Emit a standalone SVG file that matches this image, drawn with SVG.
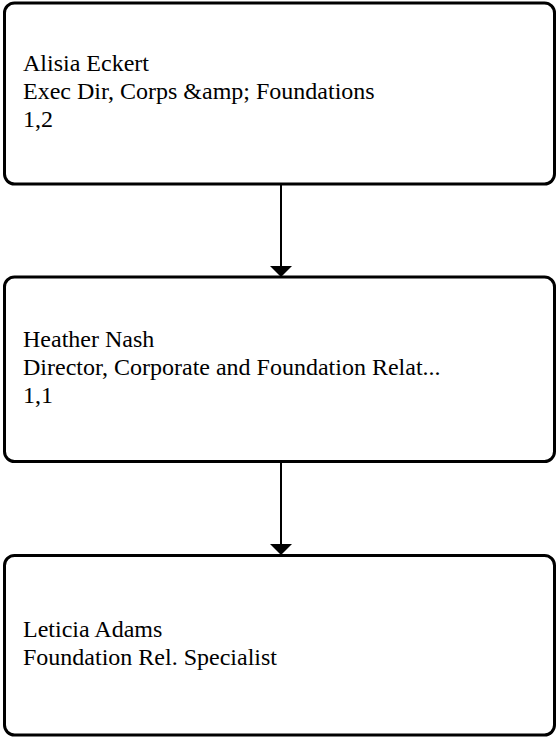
<svg xmlns="http://www.w3.org/2000/svg" width="558" height="738" viewBox="0 0 558 738">
  <defs>
    <style>
      .box { fill: #ffffff; stroke: #000000; stroke-width: 3; }
      .lbl { font-family: "Liberation Serif", "Times New Roman", serif; font-size: 24px; fill: #000000; }
      .edge { stroke: #000000; stroke-width: 2; fill: none; }
      .head { fill: #000000; stroke: none; }
    </style>
  </defs>
  <rect x="0" y="0" width="558" height="738" fill="#ffffff"/>
  <g id="connectors">
    <line class="edge" x1="281" y1="185" x2="281" y2="267"/>
    <polygon class="head" points="270,266 292,266 281,277"/>
    <line class="edge" x1="281" y1="463" x2="281" y2="545"/>
    <polygon class="head" points="270,544 292,544 281,555"/>
  </g>
  <g id="node-alisia-eckert">
    <rect class="box" x="4.5" y="3" width="550" height="181" rx="10" ry="10"/>
    <text class="lbl" x="23" y="71">Alisia Eckert</text>
    <text class="lbl" x="23" y="99">Exec Dir, Corps &amp;amp; Foundations</text>
    <text class="lbl" x="23" y="127">1,2</text>
  </g>
  <g id="node-heather-nash">
    <rect class="box" x="4.5" y="277" width="550" height="184.5" rx="10" ry="10"/>
    <text class="lbl" x="23" y="347">Heather Nash</text>
    <text class="lbl" x="23" y="375">Director, Corporate and Foundation Relat...</text>
    <text class="lbl" x="23" y="403">1,1</text>
  </g>
  <g id="node-leticia-adams">
    <rect class="box" x="4.5" y="555.5" width="550" height="179.5" rx="10" ry="10"/>
    <text class="lbl" x="23" y="637">Leticia Adams</text>
    <text class="lbl" x="23" y="665">Foundation Rel. Specialist</text>
  </g>
</svg>
